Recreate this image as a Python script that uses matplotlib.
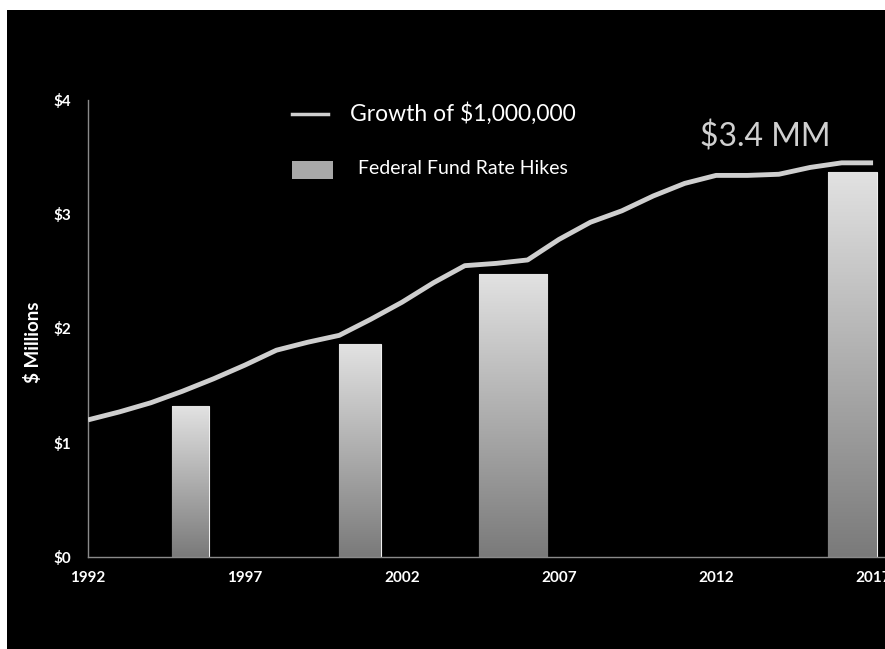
import numpy as np
import matplotlib
matplotlib.use('Agg')
from matplotlib import pyplot as plt
from matplotlib.patches import Rectangle
from matplotlib.lines import Line2D

# Growth of $1,000,000 (in $ millions), one value per year
years = [1992, 1993, 1994, 1995, 1996, 1997, 1998, 1999, 2000, 2001, 2002, 2003, 2004,
         2005, 2006, 2007, 2008, 2009, 2010, 2011, 2012, 2013, 2014, 2015, 2016, 2017]
growth = [1.20, 1.27, 1.35, 1.45, 1.56, 1.68, 1.81, 1.88, 1.94, 2.08, 2.23, 2.40, 2.55,
          2.57, 2.60, 2.78, 2.93, 3.03, 3.16, 3.27, 3.34, 3.34, 3.35, 3.41, 3.45, 3.45]

# Federal fund rate hike periods (start year, end year, bar height)
hike_start = [1994.68, 2000.0, 2004.45, 2015.57]
hike_end = [1995.85, 2001.33, 2006.62, 2017.13]
hike_height = [1.32, 1.86, 2.48, 3.37]

xtick_years = [1992, 1997, 2002, 2007, 2012, 2017]
ytick_vals = [0, 1, 2, 3, 4]
ytick_labels = ['$0', '$1', '$2', '$3', '$4']

plt.rcParams['font.family'] = ['Lato', 'DejaVu Sans']

W, H = 885, 649
fig = plt.figure(figsize=(W / 100, H / 100), dpi=100, facecolor='white')
# black slide background (scan leaves a white strip on top and left)
fig.patches.append(Rectangle((7 / W, 0), 1, (H - 10) / H, transform=fig.transFigure,
                             facecolor='black', edgecolor='none', zorder=-5))

ax = fig.add_axes([88 / W, (H - 557) / H, 1 - 88 / W, (557 - 100) / H])
ax.set_facecolor('black')

# gradient bars for the rate hikes
grad = np.linspace(0, 1, 256).reshape(-1, 1)
cmap = matplotlib.colors.LinearSegmentedColormap.from_list('bar', ['#7a7a7a', '#e2e2e2'])
for s, e, h in zip(hike_start, hike_end, hike_height):
    bar = ax.bar(s, h, width=e - s, align='edge', color='#b0b0b0',
                 edgecolor='#f0f0f0', linewidth=0.8, zorder=2)[0]
    im = ax.imshow(grad, cmap=cmap, aspect='auto', origin='lower',
                   extent=[s, e, 0, h], zorder=2.5)
    im.set_clip_path(bar)

ax.set_xlim(1992, 2017.38)
ax.set_ylim(0, 4)

# growth line
ax.plot(years, growth, color='#cfcfcf', lw=3.5, solid_capstyle='butt', zorder=3)

for side in ['top', 'right']:
    ax.spines[side].set_visible(False)
for side in ['left', 'bottom']:
    ax.spines[side].set_color('#8a8a8a')
    ax.spines[side].set_linewidth(1)
    ax.spines[side].set_linestyle((0, (1, 1)))

ax.set_xticks(xtick_years)
ax.set_xticklabels([str(y) for y in xtick_years], fontsize=11, fontweight='bold', color='white')
ax.set_yticks(ytick_vals)
ax.set_yticklabels(ytick_labels, fontsize=11, fontweight='bold', color='white')
ax.tick_params(axis='x', length=0, pad=10)
for lab in ax.get_yticklabels():
    lab.set_horizontalalignment('left')
ax.tick_params(axis='y', length=0, pad=25)

ax.set_ylabel('$ Millions', fontsize=13.5, fontweight='bold', color='white')
ax.yaxis.set_label_coords(-(88 - 42) / (W - 88), 0.47)

# legend drawn by hand
fig.lines.append(Line2D([292 / W, 328 / W], [(H - 114) / H] * 2, transform=fig.transFigure,
                        color='#cfcfcf', lw=2.5))
fig.text(350 / W, (H - 114) / H, 'Growth of $1,000,000', fontsize=16.5, color='white',
         va='center', ha='left')
fig.patches.append(Rectangle((292 / W, (H - 179) / H), 41 / W, 18 / H, transform=fig.transFigure,
                             facecolor='#a8a8a8', edgecolor='none'))
fig.text(358 / W, (H - 169) / H, 'Federal Fund Rate Hikes', fontsize=14, color='white',
         va='center', ha='left')

# end value callout
fig.text(700 / W, (H - 137) / H, '$3.4 MM', fontsize=23, color='#d0d0d0',
         va='center', ha='left')

fig.savefig('out.png', dpi=100, facecolor=fig.get_facecolor())
